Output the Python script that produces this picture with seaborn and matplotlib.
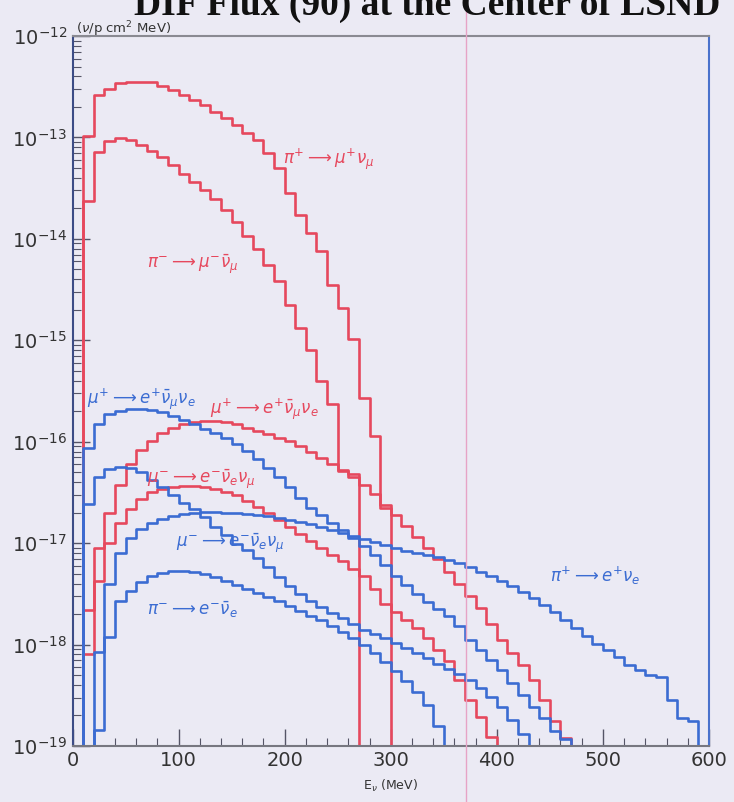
import numpy as np
import pandas as pd
import seaborn as sns
import matplotlib.pyplot as plt
from matplotlib.lines import Line2D
from matplotlib.ticker import MultipleLocator, NullFormatter, FixedLocator

# DIF neutrino flux at the LSND center, 10 MeV bins starting at 10 MeV
# values are log10(flux), None = empty bin
bin_width = 10
first_bin = 10

pip_mu = [-12.99, -12.58, -12.52, -12.46, -12.45, -12.45, -12.45, -12.49, -12.53, -12.58,
          -12.63, -12.68, -12.75, -12.81, -12.88, -12.96, -13.03, -13.15, -13.30, -13.55,
          -13.76, -13.94, -14.12, -14.45, -14.68, -14.99, -15.57, -15.94, -16.65]

pim_mu = [-13.63, -13.14, -13.04, -13.01, -13.03, -13.07, -13.13, -13.19, -13.27, -13.36,
          -13.44, -13.52, -13.61, -13.72, -13.83, -13.97, -14.10, -14.26, -14.42, -14.65,
          -14.88, -15.10, -15.40, -15.63, -16.29, -16.32]

mup_red = [-17.66, -17.05, -16.70, -16.43, -16.22, -16.08, -15.99, -15.91, -15.86, -15.83,
           -15.81, -15.80, -15.80, -15.81, -15.83, -15.86, -15.89, -15.92, -15.96, -15.99,
           -16.04, -16.10, -16.16, -16.22, -16.28, -16.35, -16.43, -16.52, -16.62, -16.72,
           -16.83, -16.94, -17.05, -17.16, -17.28, -17.40, -17.52, -17.64, -17.80, -17.95,
           -18.08, -18.20, -18.35, -18.55, -18.75, -18.92]

mum_red = [-18.09, -17.37, -17.00, -16.80, -16.66, -16.56, -16.50, -16.47, -16.45, -16.44,
           -16.44, -16.45, -16.47, -16.50, -16.53, -16.58, -16.64, -16.70, -16.77, -16.84,
           -16.91, -16.98, -17.05, -17.12, -17.18, -17.25, -17.32, -17.45, -17.60, -17.68,
           -17.76, -17.84, -17.94, -18.05, -18.16, -18.35, -18.55, -18.71, -18.91]

mup_blue = [-16.06, -15.83, -15.73, -15.70, -15.68, -15.68, -15.69, -15.71, -15.75, -15.79,
            -15.83, -15.87, -15.91, -15.96, -16.02, -16.09, -16.17, -16.26, -16.35, -16.45,
            -16.55, -16.65, -16.72, -16.80, -16.87, -16.95, -17.03, -17.12, -17.22, -17.32,
            -17.41, -17.50, -17.58, -17.65, -17.72, -17.82, -17.95, -18.05, -18.15, -18.25,
            -18.38, -18.50, -18.62, -18.72, -18.85, -18.93]

mum_blue = [-16.61, -16.35, -16.27, -16.25, -16.26, -16.30, -16.38, -16.45, -16.53, -16.60,
            -16.66, -16.74, -16.84, -16.92, -17.01, -17.07, -17.15, -17.24, -17.33, -17.42,
            -17.50, -17.57, -17.63, -17.69, -17.74, -17.80, -17.86, -17.90, -17.94, -17.98,
            -18.03, -18.08, -18.13, -18.19, -18.24, -18.29, -18.35, -18.43, -18.52, -18.62,
            -18.74, -18.88]

pip_e = [None, -18.07, -17.40, -17.10, -16.95, -16.86, -16.80, -16.76, -16.73, -16.71,
         -16.70, -16.69, -16.69, -16.70, -16.70, -16.71, -16.72, -16.73, -16.75, -16.77,
         -16.79, -16.81, -16.84, -16.87, -16.90, -16.93, -16.96, -16.99, -17.02, -17.05,
         -17.08, -17.10, -17.12, -17.14, -17.17, -17.20, -17.24, -17.28, -17.32, -17.37,
         -17.42, -17.48, -17.54, -17.61, -17.68, -17.76, -17.84, -17.92, -17.99, -18.05,
         -18.12, -18.20, -18.25, -18.30, -18.32, -18.55, -18.72, -18.75]

pim_e = [None, -18.84, -17.93, -17.57, -17.47, -17.38, -17.32, -17.29, -17.27, -17.27,
         -17.28, -17.30, -17.33, -17.37, -17.41, -17.45, -17.49, -17.53, -17.57, -17.62,
         -17.67, -17.72, -17.76, -17.82, -17.88, -17.94, -18.00, -18.08, -18.17, -18.26,
         -18.36, -18.47, -18.60, -18.80]

channels = ["pip_mu", "pim_mu", "mup_red", "mum_red", "mup_blue", "mum_blue", "pip_e", "pim_e"]
series = [pip_mu, pim_mu, mup_red, mum_red, mup_blue, mum_blue, pip_e, pim_e]
colors = ["#e6485d", "#e6485d", "#e6485d", "#e6485d", "#3b6cd2", "#3b6cd2", "#3b6cd2", "#3b6cd2"]

labels = [r"$\pi^{+}\longrightarrow\mu^{+}\nu_{\mu}$", r"$\pi^{-}\longrightarrow\mu^{-}\bar{\nu}_{\mu}$",
          r"$\mu^{+}\longrightarrow e^{+}\bar{\nu}_{\mu}\nu_{e}$", r"$\mu^{-}\longrightarrow e^{-}\bar{\nu}_{e}\nu_{\mu}$",
          r"$\mu^{+}\longrightarrow e^{+}\bar{\nu}_{\mu}\nu_{e}$", r"$\mu^{-}\longrightarrow e^{-}\bar{\nu}_{e}\nu_{\mu}$",
          r"$\pi^{+}\longrightarrow e^{+}\nu_{e}$", r"$\pi^{-}\longrightarrow e^{-}\bar{\nu}_{e}$"]
label_x = [198, 70, 130, 70, 14, 98, 450, 70]
label_y = [-13.22, -14.25, -15.68, -16.37, -15.58, -17.0, -17.32, -17.66]

y_floor = 1e-19
e_max = 600

rows = []
for name, vals in zip(channels, series):
    edges = np.arange(0, e_max, bin_width)
    flux = np.full(len(edges), y_floor)
    for i, v in enumerate(vals):
        if v is not None:
            flux[(first_bin // bin_width) + i] = 10.0 ** v
    for e, f in zip(edges, flux):
        rows.append((name, e, f))
    rows.append((name, e_max, flux[-1]))
df = pd.DataFrame(rows, columns=["channel", "E", "flux"])

bg = "#ebeaf4"
sns.set_style("ticks")
plt.rcParams["font.family"] = ["DejaVu Sans"]

fig = plt.figure(figsize=(7.34, 8.02), dpi=100, facecolor=bg)
ax = fig.add_axes([72.5 / 734, 1 - 746 / 802, (709 - 72.5) / 734, (746 - 36) / 802])
ax.set_facecolor(bg)

sns.lineplot(data=df, x="E", y="flux", hue="channel", hue_order=channels,
             palette=dict(zip(channels, colors)), drawstyle="steps-post",
             estimator=None, legend=False, linewidth=1.9, ax=ax)

ax.set_yscale("log")
ax.set_xlim(0, 600)
ax.set_ylim(1e-19, 1e-12)

for lab, lx, ly, c in zip(labels, label_x, label_y, colors):
    ax.text(lx, 10 ** ly, lab, color=c, fontsize=12, va="center", ha="left")

ax.xaxis.set_major_locator(MultipleLocator(100))
ax.xaxis.set_minor_locator(MultipleLocator(20))
decades = np.arange(-19, -11)
ax.yaxis.set_major_locator(FixedLocator(10.0 ** decades))
minor_y = [m * 10.0 ** d for d in decades[:-1] for m in range(2, 10)]
ax.yaxis.set_minor_locator(FixedLocator(minor_y))
ax.yaxis.set_minor_formatter(NullFormatter())
ax.tick_params(which="both", direction="in", colors="#555566", labelcolor="#333333")
ax.tick_params(which="major", length=12, labelsize=14, width=1)
ax.tick_params(which="minor", length=6, width=0.8)
ax.tick_params(axis="y", which="both", pad=4)

ax.spines["left"].set_color("#3c4c86")
ax.spines["bottom"].set_color("#777780")
ax.spines["top"].set_color("#8a8a92")
ax.spines["right"].set_color("#4a72cc")
for s in ax.spines.values():
    s.set_linewidth(1.5)

ax.set_xlabel(r"E$_{\nu}$ (MeV)", fontsize=9, color="#333333", labelpad=6)
ax.set_ylabel("")
fig.text(76 / 734, 1 - 33 / 802, r"($\nu$/p cm$^{2}$ MeV)", fontsize=9.5, color="#333333", va="baseline")
fig.text(427 / 734, 1 - 15 / 802, "DIF Flux (90) at the Center of LSND", fontsize=27,
         fontweight="bold", family="Liberation Serif", ha="center", va="baseline", color="#111111")

fig.add_artist(Line2D([466 / 734, 466 / 734], [0, 1], color="#e6a3c6", lw=1.0))

fig.savefig("out.png", dpi=100, facecolor=bg)
